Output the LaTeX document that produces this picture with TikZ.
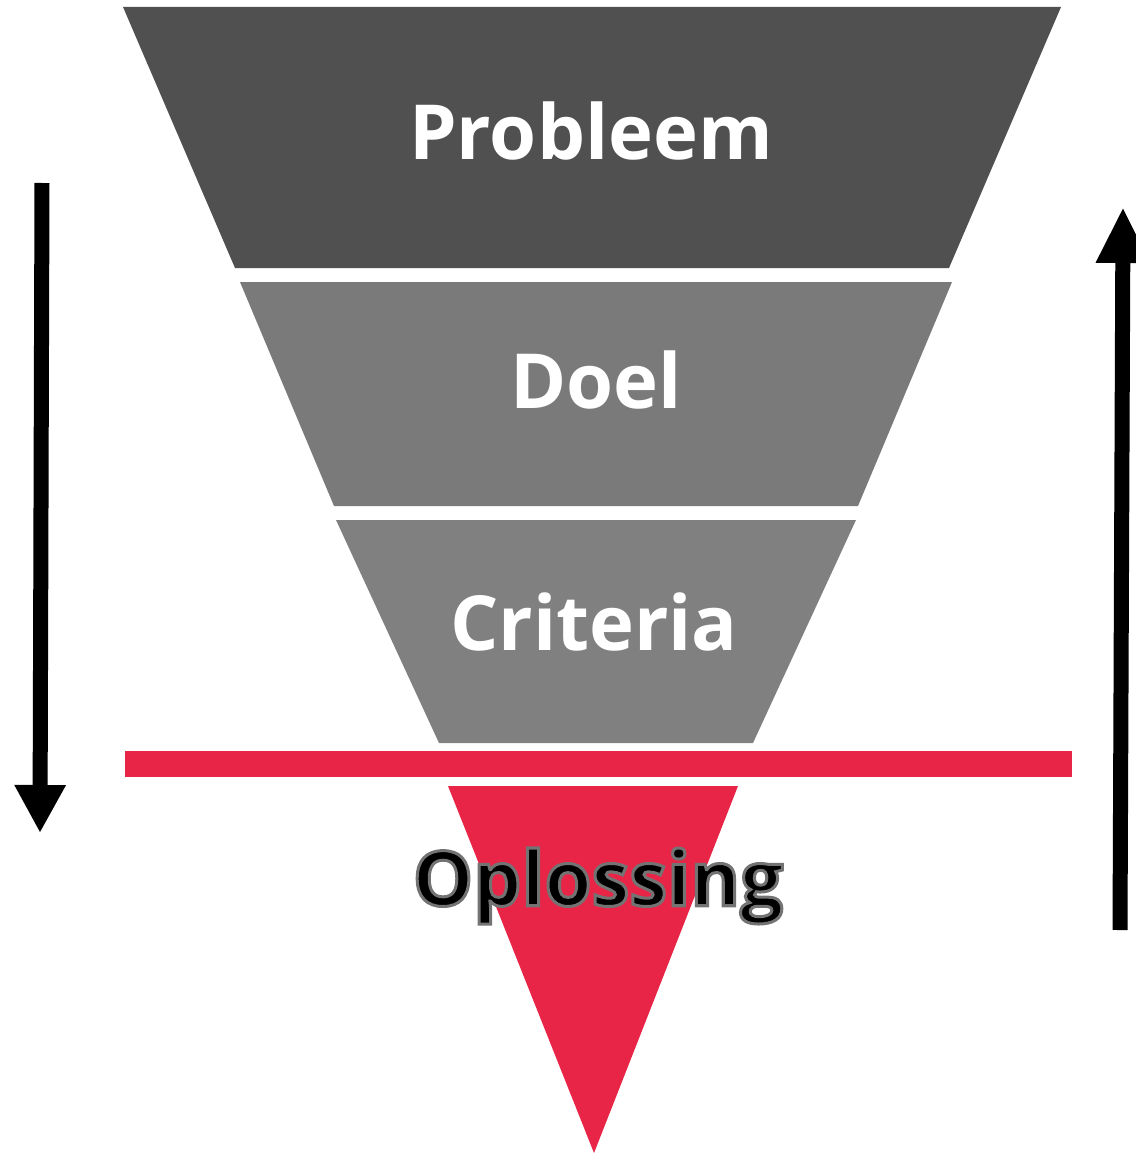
\documentclass[tikz,border=0pt]{standalone}
\usepackage{fontspec}
\setmainfont{Open Sans}
\usetikzlibrary{arrows.meta}
\definecolor{dark}{HTML}{505050}
\definecolor{midg}{HTML}{7A7A7A}
\definecolor{lightg}{HTML}{808080}
\definecolor{fred}{HTML}{E82546}
\tikzset{
  lbl/.style={font=\fontsize{76}{76}\selectfont\bfseries, text=white, inner sep=0pt},
  flow/.style={line width=15pt, -{Triangle[width=48pt,length=48pt]}}
}
\newcommand{\outlined}[1]{\special{pdf:literal direct 2 Tr 3 w 0.45 0.45 0.45 RG}#1\special{pdf:literal direct 0 Tr}}
\begin{document}
\begin{tikzpicture}[x=1pt,y=-1pt]
\useasboundingbox (0,0) rectangle (1135,1153);
\fill[dark] (123,7) -- (1061,7) -- (949,268) -- (235,268) -- cycle;
\fill[midg] (240,282) -- (952,282) -- (858,506) -- (334,506) -- cycle;
\fill[lightg] (336,520) -- (856,520) -- (753,743) -- (439,743) -- cycle;
\fill[fred] (125,751) rectangle (1072,777);
\fill[fred] (448,786) -- (738,786) -- (594,1153) -- cycle;
\node[lbl] (p) at (591,131) {Probleem};
\node[lbl] (d) at (596,380) {Doel};
\node[lbl] (c) at (594,622) {Criteria};
\node[lbl, text=black] (o) at (598,886) {\outlined{Oplossing}};
\coordinate (ls) at (42,183);
\coordinate (le) at (40,833);
\coordinate (rs) at (1120,930);
\coordinate (re) at (1123,207);
\draw[flow] (ls) -- (le);
\draw[flow, -{Triangle[width=50pt,length=56pt]}] (rs) -- (re);
\end{tikzpicture}
\end{document}
